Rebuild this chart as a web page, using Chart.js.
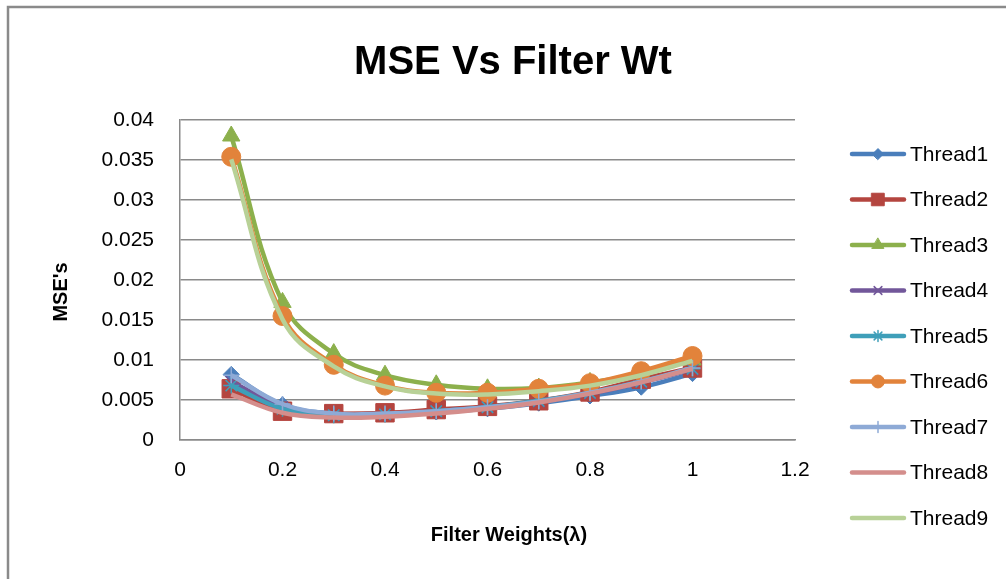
<!DOCTYPE html>
<html>
<head>
<meta charset="utf-8">
<script src="https://cdn.jsdelivr.net/npm/chart.js@4/dist/chart.umd.min.js"></script>
<style>
  html, body { margin: 0; padding: 0; background: #fff; }
  #wrap { width: 1006px; height: 579px; position: relative; }
</style>
</head>
<body>
<div id="wrap"><canvas id="chart"></canvas></div>
<script>
// filter weights (x) and MSE values per thread
var weights = [0.1, 0.2, 0.3, 0.4, 0.5, 0.6, 0.7, 0.8, 0.9, 1.0];

var thread1 = [0.0082, 0.0044, 0.0033, 0.0033, 0.0035, 0.0039, 0.0046, 0.0055, 0.0066, 0.0083];
var thread2 = [0.0064, 0.0036, 0.0033, 0.0034, 0.0038, 0.0042, 0.0049, 0.0060, 0.0076, 0.0090];
var thread3 = [0.0380, 0.0172, 0.0108, 0.0081, 0.0069, 0.0064, 0.0065, 0.0072, 0.0083, 0.0100];
var thread4 = [0.0073, 0.0041, 0.0031, 0.0032, 0.0036, 0.0041, 0.0048, 0.0058, 0.0072, 0.0088];
var thread5 = [0.0068, 0.0039, 0.0031, 0.0032, 0.0036, 0.0041, 0.0049, 0.0059, 0.0073, 0.0089];
var thread6 = [0.0354, 0.0155, 0.0094, 0.0068, 0.0059, 0.0059, 0.0064, 0.0071, 0.0086, 0.0105];
var thread7 = [0.0081, 0.0045, 0.0033, 0.0033, 0.0036, 0.0041, 0.0048, 0.0059, 0.0073, 0.0090];
var thread8 = [0.0057, 0.0034, 0.0028, 0.0029, 0.0033, 0.0039, 0.0047, 0.0058, 0.0072, 0.0089];
var thread9 = [0.0351, 0.0151, 0.0092, 0.0067, 0.0058, 0.0057, 0.0061, 0.0068, 0.0081, 0.0099];

var seriesNames = ['Thread1', 'Thread2', 'Thread3', 'Thread4', 'Thread5', 'Thread6', 'Thread7', 'Thread8', 'Thread9'];
var seriesValues = [thread1, thread2, thread3, thread4, thread5, thread6, thread7, thread8, thread9];
var seriesColors = ['#4a7ebb', '#b4453f', '#8cb04c', '#72579a', '#3f9fb9', '#e2833b', '#8eaad6', '#d48e8c', '#b8d197'];
var seriesMarkers = ['rectRot', 'rect', 'triangle', 'crossRot', 'star', 'circle', 'cross', false, false];
var markerSizes = [8, 13, 10, 8, 8, 9.5, 8, 0, 0];

var titleText = 'MSE Vs Filter Wt';
var xTitle = 'Filter Weights(\u03bb)';
var yTitle = "MSE's";

var FONT = '"Liberation Sans", Arial, sans-serif';

function fmt(v) {
    return String(+Number(v).toFixed(4));
}

var datasets = seriesNames.map(function (name, i) {
    var thin = seriesMarkers[i] === 'crossRot' || seriesMarkers[i] === 'star' || seriesMarkers[i] === 'cross';
    return {
        label: name,
        data: weights.map(function (w, j) { return {x: w, y: seriesValues[i][j]}; }),
        borderColor: seriesColors[i],
        backgroundColor: seriesColors[i],
        borderWidth: 4.5,
        tension: 0.4,
        pointStyle: seriesMarkers[i],
        pointRadius: markerSizes[i],
        pointBorderWidth: thin ? 1.5 : 1,
        pointBorderColor: seriesColors[i],
        pointBackgroundColor: seriesColors[i],
        order: 8 - i
    };
});

// outer frame like the spreadsheet chart border
var framePlugin = {
    id: 'frame',
    beforeDraw: function (chart) {
        var ctx = chart.ctx;
        ctx.save();
        ctx.fillStyle = '#fff';
        ctx.fillRect(0, 0, chart.width, chart.height);
        ctx.strokeStyle = '#8a8a8a';
        ctx.lineWidth = 2.5;
        ctx.strokeRect(8, 7, chart.width + 20, chart.height + 20);
        ctx.restore();
    }
};

// chart title and axis titles, placed where the spreadsheet put them
var titlesPlugin = {
    id: 'titles',
    afterDraw: function (chart) {
        var ctx = chart.ctx;
        var area = chart.chartArea;
        ctx.save();
        ctx.fillStyle = '#000';
        ctx.textAlign = 'center';
        ctx.textBaseline = 'middle';
        ctx.font = 'bold 40px ' + FONT;
        ctx.fillText(titleText, 513, 63);
        ctx.font = 'bold 20px ' + FONT;
        ctx.fillText(xTitle, 509, 535);
        ctx.translate(61, (area.top + area.bottom) / 2 + 12);
        ctx.rotate(-Math.PI / 2);
        ctx.fillText(yTitle, 0, 0);
        ctx.restore();
    }
};

// legend on the right: line with marker, then the name
var sideLegend = {
    id: 'sideLegend',
    afterDraw: function (chart) {
        var ctx = chart.ctx;
        ctx.save();
        chart.data.datasets.forEach(function (ds, i) {
            var y = 154 + i * 45.5;
            ctx.strokeStyle = ds.borderColor;
            ctx.lineWidth = 4.5;
            ctx.lineCap = 'round';
            ctx.beginPath();
            ctx.moveTo(852, y);
            ctx.lineTo(904, y);
            ctx.stroke();
            if (ds.pointStyle) {
                ctx.fillStyle = ds.backgroundColor;
                ctx.strokeStyle = ds.borderColor;
                ctx.lineWidth = ds.pointBorderWidth;
                Chart.helpers.drawPoint(ctx, {
                    pointStyle: ds.pointStyle,
                    radius: ds.pointRadius * 0.68,
                    borderWidth: ds.pointBorderWidth,
                    rotation: 0
                }, 878, y);
            }
            ctx.fillStyle = '#000';
            ctx.font = '21px ' + FONT;
            ctx.textAlign = 'left';
            ctx.textBaseline = 'middle';
            ctx.fillText(ds.label, 910, y + 1);
        });
        ctx.restore();
    }
};

new Chart(document.getElementById('chart'), {
    type: 'line',
    data: {datasets: datasets},
    plugins: [framePlugin, titlesPlugin, sideLegend],
    options: {
        responsive: true,
        maintainAspectRatio: false,
        animation: false,
        layout: {padding: {left: 20, right: 211, top: 120, bottom: 0}},
        plugins: {
            legend: {display: false},
            tooltip: {enabled: false},
            title: {display: false}
        },
        scales: {
            x: {
                type: 'linear',
                min: 0,
                max: 1.2,
                afterFit: function (s) { s.height = 139; },
                ticks: {
                    stepSize: 0.2,
                    color: '#000',
                    padding: 18,
                    font: {family: FONT, size: 21},
                    callback: function (v) { return fmt(v); }
                },
                grid: {display: false, drawTicks: false},
                border: {display: true, color: '#8a8a8a', width: 1.5}
            },
            y: {
                min: 0,
                max: 0.04,
                afterFit: function (s) { s.width = 160; },
                ticks: {
                    stepSize: 0.005,
                    color: '#000',
                    padding: 26,
                    font: {family: FONT, size: 21},
                    callback: function (v) { return fmt(v); }
                },
                grid: {color: '#8a8a8a', lineWidth: 1.5, drawTicks: false},
                border: {display: true, color: '#8a8a8a', width: 1.5}
            }
        }
    }
});
</script>
</body>
</html>
